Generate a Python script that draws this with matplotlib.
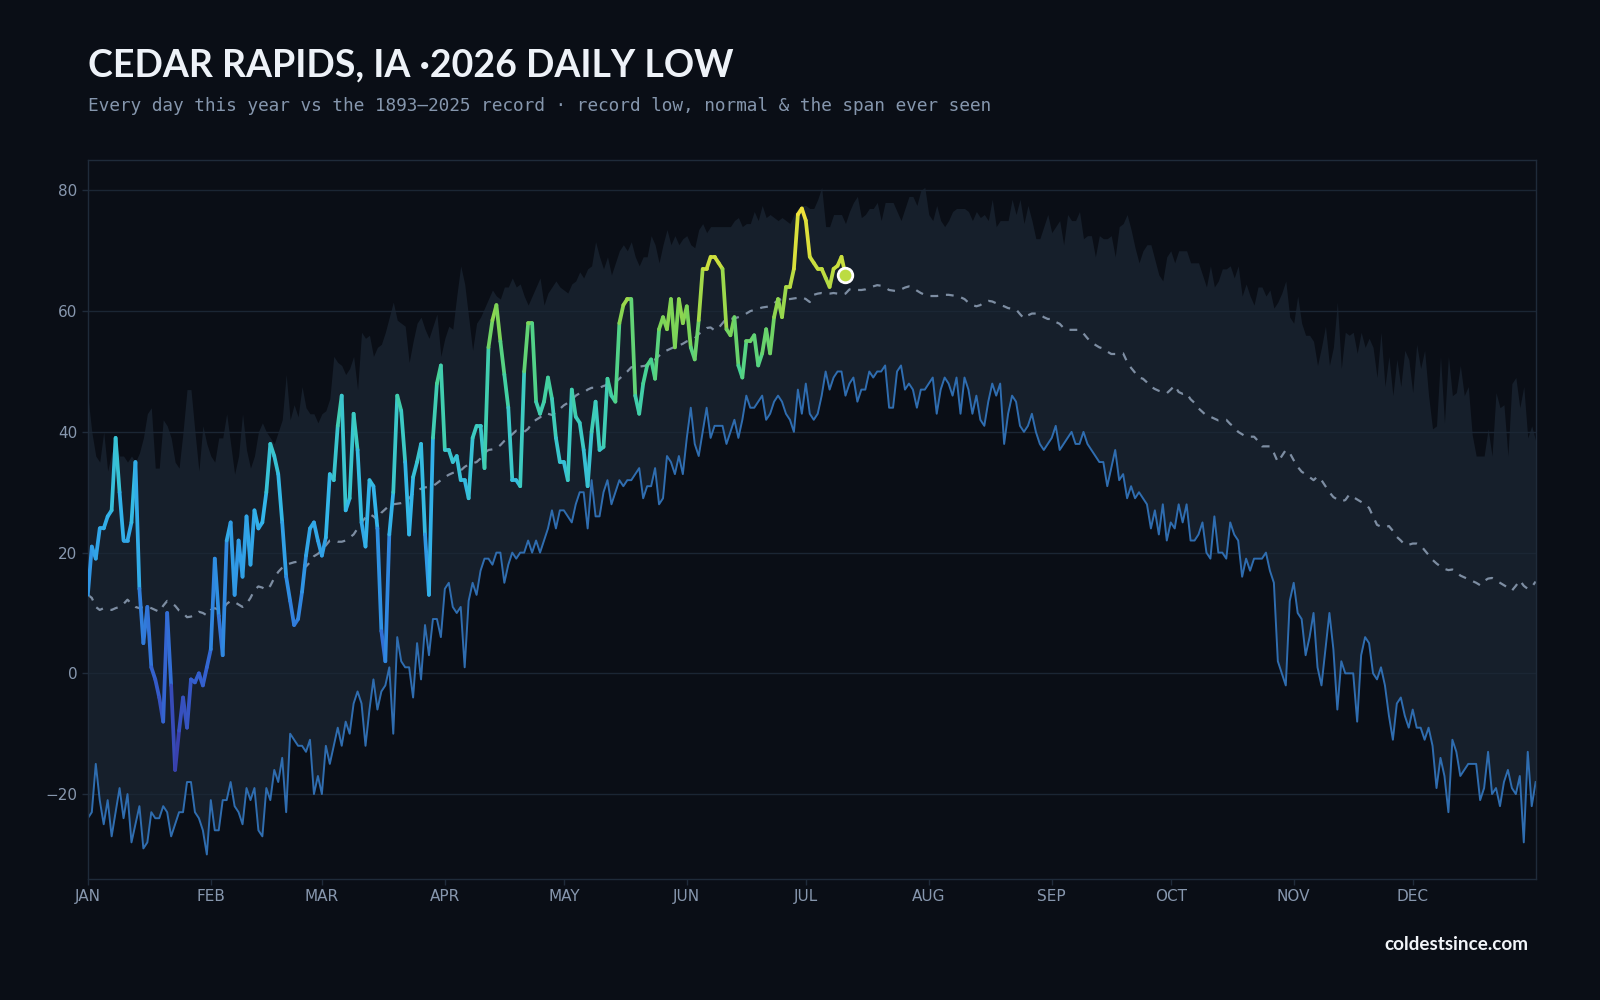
import numpy as np
import matplotlib
matplotlib.use("Agg")
import matplotlib.pyplot as plt
from matplotlib.collections import LineCollection
from matplotlib.colors import LinearSegmentedColormap, Normalize

# ---------------- data (deg F, day-of-year index, 0 = Jan 1) ----------------
record_low = [
    -24, -23, -15, -21, -25, -21, -27, -23, -19, -24,
    -20, -28, -25, -22, -29, -28, -23, -24, -24, -22,
    -23, -27, -25, -23, -23, -18, -18, -23, -24, -26,
    -30, -21, -26, -26, -21, -21, -18, -22, -23, -25,
    -19, -21, -19, -26, -27, -19, -21, -16, -18, -14,
    -23, -10, -11, -12, -12, -13, -11, -20, -17, -20,
    -12, -15, -12, -9, -12, -8, -10, -5, -3, -5,
    -12, -6, -1, -6, -3, -2, 1, -10, 6, 2,
    1, 1, -4, 5, -1, 8, 3, 9, 9, 6,
    14, 15, 11, 10, 11, 1, 12, 15, 13, 17,
    19, 19, 18, 20, 20, 15, 18, 20, 19, 20,
    20, 22, 20, 22, 20, 22, 24, 27, 24, 27,
    27, 26, 25, 28, 30, 30, 24, 32, 26, 26,
    30, 32, 28, 30, 32, 31, 32, 32, 33, 34,
    29, 31, 31, 34, 28, 29, 36, 35, 33, 36,
    33, 39, 44, 38, 36, 40, 44, 39, 41, 41,
    41, 38, 40, 42, 39, 42, 46, 44, 44, 45,
    46, 42, 43, 45, 46, 45, 43, 42, 40, 47,
    43, 48, 43, 42, 43, 46, 50, 47, 49, 50,
    50, 46, 48, 49, 45, 47, 47, 50, 49, 50,
    50, 51, 44, 44, 50, 51, 47, 48, 47, 44,
    47, 47, 48, 49, 43, 47, 49, 48, 46, 49,
    43, 49, 47, 43, 46, 42, 41, 45, 48, 46,
    48, 38, 43, 46, 45, 41, 40, 41, 43, 40,
    38, 37, 38, 39, 41, 37, 38, 39, 40, 38,
    38, 40, 38, 37, 36, 35, 35, 31, 34, 37,
    32, 33, 29, 31, 29, 30, 29, 28, 24, 27,
    23, 28, 22, 25, 24, 28, 25, 28, 22, 22,
    23, 25, 20, 19, 26, 20, 20, 19, 25, 23,
    22, 16, 19, 17, 19, 19, 19, 20, 17, 15,
    2, 0, -2, 12, 15, 10, 9, 3, 6, 10,
    1, -2, 4, 10, 4, -6, 2, 0, 0, 0,
    -8, 3, 6, 5, 0, -1, 1, -2, -7, -11,
    -5, -4, -7, -9, -6, -9, -9, -11, -9, -12,
    -19, -14, -17, -23, -11, -13, -17, -16, -15, -15,
    -15, -21, -19, -13, -20, -19, -22, -18, -16, -19,
    -20, -17, -28, -13, -22, -18,
]

record_high = [
    46, 40, 36, 35, 40, 33.5, 36.5, 38, 36, 36,
    35, 36, 35, 36.5, 39, 43, 44, 34, 34, 42,
    41, 39, 35, 34, 40, 47, 47, 40, 33.5, 41,
    38, 36, 35, 39, 39, 43, 38, 33, 36, 43,
    37, 34, 36, 40, 41.5, 40, 39, 38, 40, 42,
    49.5, 42, 44.5, 42.5, 47.5, 44, 43, 43, 41.5, 43,
    43.5, 45.5, 52.5, 51.5, 51, 49.5, 50.5, 52.5, 47, 56.5,
    55.5, 56, 52.5, 54, 54.5, 56.5, 59, 61.5, 58.5, 58,
    57.5, 51.5, 55, 58, 59, 57, 55.5, 57.5, 59.5, 52.5,
    55.5, 57.5, 57, 62.5, 67.5, 64.5, 59, 53.5, 58, 59,
    60.5, 62, 63.5, 62.5, 62, 64, 64, 65.5, 64, 64.5,
    62.5, 61, 62.5, 64, 65.5, 61, 63, 64, 65, 64,
    63.5, 63, 64.5, 65, 66.5, 65.5, 67, 67.5, 71.5, 69,
    67, 69, 66, 68, 70, 71, 70, 71.5, 69, 67.5,
    69, 69, 72.5, 71, 68, 71, 73.5, 71, 72.5, 71,
    72, 72.5, 71, 70.5, 73.5, 74.5, 73, 74, 74, 74,
    74, 74, 74, 75, 75.5, 74, 74.5, 74.5, 76.5, 75,
    77.5, 75.5, 76, 75.5, 75, 75.5, 75, 74.5, 76, 77,
    77.5, 77.5, 77, 77, 78.5, 80.5, 74, 74, 76, 76,
    76, 74.5, 76.5, 78, 79, 75.5, 76, 77, 77, 78,
    75, 78, 78, 78, 76.5, 75, 77, 79, 79, 77.5,
    80, 80.5, 76, 75, 77.5, 75, 74, 75, 76.5, 77,
    77, 77, 76.5, 75, 76.5, 75.5, 76, 75, 78.5, 74,
    75, 75, 75, 78.5, 76, 78.5, 74.5, 77.5, 75, 72,
    72, 74, 76, 73, 74, 75, 71, 76, 75, 75,
    76.5, 72, 72.5, 72.5, 69, 72.5, 72, 72, 72.5, 69,
    74, 74.5, 76, 73.5, 70.5, 68, 70, 71, 71, 68.5,
    66, 65, 69, 70, 68, 70, 70, 70, 68, 68,
    68, 66, 64, 67.5, 64, 65, 67, 67, 67.5, 65.5,
    67.5, 62.5, 64.5, 62.5, 61, 64, 64, 62.5, 63.5, 60.5,
    61.5, 63, 65, 59, 58, 62.5, 58, 56, 56, 55,
    51, 54, 57.5, 51, 54, 61.5, 50.5, 56.5, 56, 56.5,
    53, 56.5, 54, 55.5, 54, 49, 56.5, 47.5, 52.5, 46,
    52, 47.5, 53.5, 52, 46.5, 54.5, 50.5, 53.5, 46, 40.5,
    41, 52.5, 41.5, 52.5, 46, 46.5, 51, 46, 47.5, 39.5,
    36, 36, 36, 40.5, 36, 46.5, 44, 44.5, 36, 48,
    49, 44, 47.5, 39, 41, 38.5,
]

normal = [
    13, 12.5, 11, 10.5, 10.8, 10.7, 10.5, 10.8, 11, 11.5,
    12.2, 11.5, 11, 10.8, 11, 11, 10.8, 10.5, 10.2, 11.2,
    12, 11.6, 11.2, 10.4, 10, 9.3, 9.4, 9.7, 10.2, 10,
    9.6, 10.5, 10.8, 10.5, 10.6, 11.5, 12, 11.8, 11.4, 11,
    11.5, 12.5, 13.8, 14.4, 14.2, 13.8, 14.5, 15.8, 16.8, 17.5,
    18, 18.2, 18.4, 18.5, 18.2, 17.7, 18.4, 19.4, 19.8, 20.4,
    21.2, 22, 22, 21.8, 21.8, 22, 22.5, 23, 24, 25,
    25.8, 26.4, 26, 25.4, 26.6, 27.2, 27.8, 28, 28.1, 28.2,
    28.4, 29, 29.8, 30.3, 30.6, 30.8, 30.9, 31, 31.5, 32,
    32.5, 32.9, 33.2, 33.3, 33.6, 34.2, 34.6, 34.8, 35, 35.6,
    36.5, 37, 37.1, 37.3, 37.8, 38.5, 39, 39.6, 40.2, 40.1,
    40, 40.5, 41.5, 42, 42.4, 43, 43, 42.8, 43.2, 43.8,
    44.4, 44.8, 45.3, 46, 46.4, 46.5, 47, 47.3, 47.3, 47.3,
    47.6, 47.8, 48, 48.2, 48.8, 49.4, 50, 50.7, 50.8, 50.8,
    50.9, 51, 51.5, 52, 52.6, 53.2, 53.5, 53.8, 54.1, 54.3,
    54.6, 55, 55.2, 55.5, 56.2, 56.7, 57.2, 57.3, 56.8, 57.2,
    58, 58.8, 58.7, 58.8, 59, 59.2, 59.6, 60, 60.2, 60.4,
    60.6, 60.7, 60.8, 61.3, 61.8, 62, 62, 62, 62.1, 62.2,
    62.3, 62, 61.5, 62.7, 62.9, 63, 62.9, 62.9, 63, 62.9,
    62.7, 62.9, 63.6, 63.7, 63.5, 63.5, 63.6, 63.9, 64.1, 64.3,
    64.2, 63.9, 63.5, 63.4, 63.3, 63.6, 63.9, 64.1, 63.9, 63.4,
    63, 62.7, 62.5, 62.5, 62.5, 62.6, 62.7, 62.7, 62.6, 62.5,
    62.3, 62, 61.4, 61, 60.8, 61, 61.5, 61.7, 61.6, 61.3,
    61, 60.8, 60.5, 60.4, 60.3, 59.5, 58.8, 59.3, 59.6, 59.6,
    59.5, 59, 58.7, 58.7, 58.2, 57.9, 57.2, 56.9, 56.9, 56.9,
    56.9, 56.3, 55.5, 54.8, 54.4, 54, 53.8, 53.3, 52.9, 52.9,
    53, 53, 51.6, 50.6, 49.8, 49, 48.8, 48.2, 47.5, 47.1,
    46.8, 46.6, 46.4, 47, 47.7, 46.6, 46.3, 46.4, 45.4, 44.8,
    43.9, 43.3, 42.7, 42.5, 42.2, 41.9, 42, 42, 41.3, 40.8,
    40, 39.6, 39.2, 39.2, 39.2, 38.5, 37.6, 37.6, 37.6, 36.5,
    35, 36, 37, 36.5, 35.3, 34.2, 33.4, 33, 32.5, 32,
    32.6, 32, 31, 30, 29.2, 28.8, 28.5, 28.7, 29.6, 29.2,
    28.8, 28.4, 28, 27.4, 26, 24.6, 24.3, 24.2, 24.4, 23.6,
    22.6, 22, 21.3, 21.3, 21.5, 21.5, 21.2, 20.4, 19.6, 18.8,
    18.2, 17.7, 17.3, 17.1, 17.2, 16.8, 16.2, 15.9, 15.6, 15.3,
    15, 14.6, 15.3, 15.7, 15.8, 15.4, 15, 14.6, 14.2, 13.7,
    14.5, 15.4, 14.5, 14, 14.3, 15.2,
]

# 2026 daily lows, Jan 1 .. Jul 11
low_2026 = [
    13, 21, 19, 24, 24, 26, 27, 39, 30, 22,
    22, 25, 35, 14, 5, 11, 1, -1, -4, -8,
    10, -2, -16, -9.5, -4, -9, -1, -1.5, 0, -2,
    1, 4, 19, 9.5, 3, 22, 25, 13, 22, 16,
    26, 18, 27, 24, 25, 30, 38, 36, 33, 25,
    16, 12, 8, 9, 13.5, 19.5, 24, 25, 22, 19.5,
    22.5, 33, 32, 41, 46, 27, 29, 43, 37, 25,
    21, 32, 31, 24, 7, 2, 23, 30, 46, 43.5,
    35, 23, 32.5, 35, 38, 23, 13, 39, 48, 51,
    37, 37, 35, 36, 32, 32, 29, 39, 41, 41,
    34, 54, 58.5, 61, 55, 49.5, 44, 32, 32, 31,
    50, 58, 58, 45, 43, 45, 49, 45.5, 39, 35,
    35, 32, 47, 42.5, 41.5, 37, 31, 40, 45, 37,
    37.5, 48.8, 46, 45, 58, 61, 62, 62, 46, 43,
    48, 51, 52, 48.8, 57, 59, 57, 62, 54, 62,
    58, 60.8, 54, 52, 58.5, 67, 67, 69, 69, 68,
    67, 57, 56, 59, 51, 49, 55, 55, 56, 51,
    53, 57, 53, 59, 62, 59, 64, 64, 67, 76,
    77, 75, 69, 68, 67, 67, 65.5, 64, 67, 67.5,
    69, 66,
]

month_starts = [0, 31, 59, 90, 120, 151, 181, 212, 243, 273, 304, 334]
month_labels = ["JAN", "FEB", "MAR", "APR", "MAY", "JUN",
                "JUL", "AUG", "SEP", "OCT", "NOV", "DEC"]
y_ticks = [-20, 0, 20, 40, 60, 80]

# ---------------- style ----------------
BG = "#0a0e16"
SPAN = "#161f2b"
GRID = "#1b2634"
SPINE = "#1f2b3a"
TICK_TXT = "#8797ae"
LOW_CLR = "#2f6db0"
NORM_CLR = "#7d8da2"
BOLD_FAMS = ["Lato", "DejaVu Sans"]

temp_cmap = LinearSegmentedColormap.from_list("lows", [
    (0.00, "#3a3aa6"),
    (0.17, "#3461cf"),
    (0.33, "#2f8fe3"),
    (0.47, "#33b6ea"),
    (0.60, "#3ccbc4"),
    (0.71, "#47d293"),
    (0.80, "#7fd455"),
    (0.90, "#c9de3e"),
    (1.00, "#f2e23a"),
])
norm = Normalize(vmin=-16, vmax=77)

days = np.arange(len(record_low))
days_2026 = np.arange(len(low_2026))
rec_lo = np.array(record_low, dtype=float)
rec_hi = np.array(record_high, dtype=float)
normals = np.array(normal, dtype=float)
this_year = np.array(low_2026, dtype=float)

fig = plt.figure(figsize=(16, 10), dpi=100, facecolor=BG)
ax = fig.add_axes([0.0549, 0.1214, 0.9049, 0.7184], facecolor=BG)

ax.fill_between(days, rec_lo, rec_hi, color=SPAN, lw=0, zorder=1)
for yv in y_ticks:
    ax.axhline(yv, color=GRID, lw=1, zorder=1.5)

ax.plot(days, rec_lo, color=LOW_CLR, lw=1.4, zorder=2)
ax.plot(days, normals, color=NORM_CLR, lw=1.6, ls=(0, (3.5, 3.5)), zorder=2.5)

# 2026 line coloured by temperature
pts = np.column_stack([days_2026, this_year])
segs = np.stack([pts[:-1], pts[1:]], axis=1)
seg_vals = (this_year[:-1] + this_year[1:]) / 2
lc = LineCollection(segs, colors=temp_cmap(norm(seg_vals)), linewidths=2.7,
                    capstyle="round", joinstyle="round", zorder=3)
ax.add_collection(lc)
ax.scatter([days_2026[-1]], [this_year[-1]], s=110,
           color=temp_cmap(norm(this_year[-1])), edgecolor="white",
           linewidth=2, zorder=4)

ax.set_xlim(0, 365)
ax.set_ylim(-34, 85)
ax.set_xticks(month_starts)
ax.set_xticklabels(month_labels)
ax.set_yticks(y_ticks)
ax.tick_params(colors=SPINE, labelcolor=TICK_TXT, labelsize=11, length=4, width=1)
for sp in ax.spines.values():
    sp.set_color(SPINE)
    sp.set_linewidth(1)

fig.text(0.055, 0.924, "CEDAR RAPIDS, IA \u00b72026 DAILY LOW",
         family=BOLD_FAMS, weight="bold", fontsize=27, color="#eef2f8")
fig.text(0.055, 0.889,
         "Every day this year vs the 1893\u20132025 record \u00b7 record low, normal & the span ever seen",
         family="DejaVu Sans Mono", fontsize=12.8, color="#8596ad")
fig.text(0.955, 0.0495, "coldestsince.com", ha="right",
         family=BOLD_FAMS, weight="bold", fontsize=13.6, color="#f2f5f9")

fig.savefig("out.png", dpi=100, facecolor=BG)
